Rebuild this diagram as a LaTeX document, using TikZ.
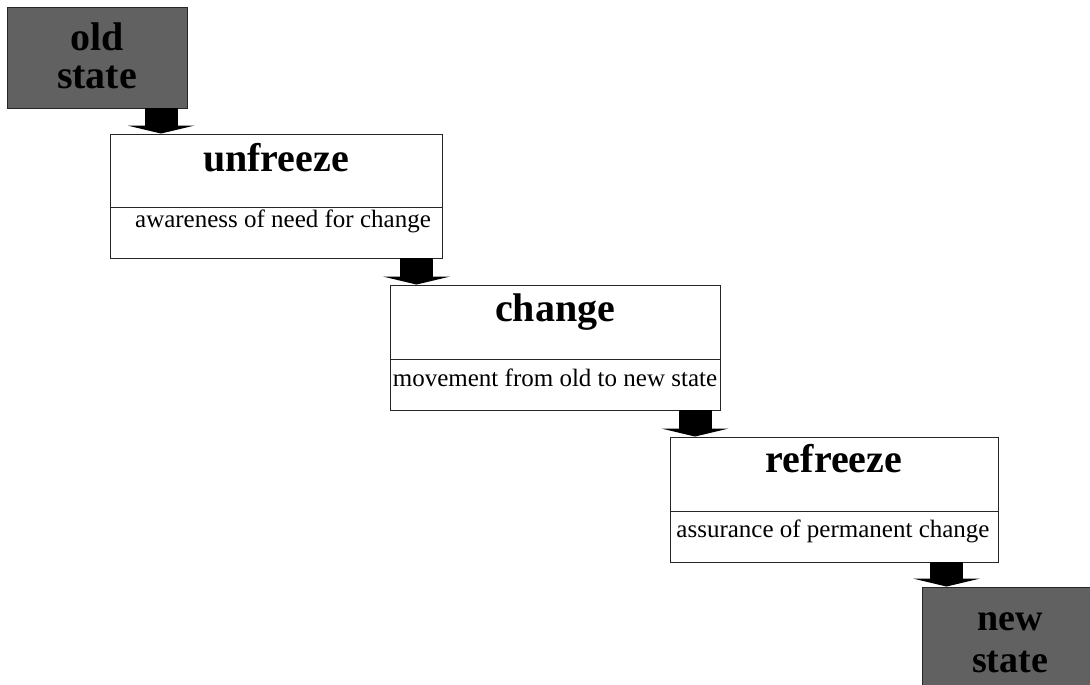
\documentclass[tikz,border=0pt]{standalone}
\usepackage{fontspec}
\setmainfont{Liberation Serif}
\usetikzlibrary{arrows.meta}
\tikzset{
  stage/.style={draw=black!85, line width=0.9pt, fill=white, rectangle, inner sep=0pt},
  statebox/.style={draw=black!85, line width=0.9pt, fill=black!62, rectangle,
    inner sep=0pt, minimum width=180pt, minimum height=101pt},
  statetext/.style={font=\bfseries\fontsize{40}{38}\selectfont, align=center,
    inner sep=0pt, text=black},
  title/.style={font=\bfseries\fontsize{40}{48}\selectfont, anchor=base, inner sep=0pt},
  subtitle/.style={font=\fontsize{25}{30}\selectfont, anchor=base, inner sep=0pt},
  divider/.style={draw=black!85, line width=0.9pt},
  flow/.style={line width=33pt, draw=black,
    -{Triangle[width=67pt,length=8pt,line width=0pt]}},
}
\begin{document}
\begin{tikzpicture}[x=1pt,y=-1pt]
\useasboundingbox (0,0) rectangle (1090,685);
\clip (0,0) rectangle (1090,685);

% initial state
\node[statebox] (old) at (97,57.5) {};
\node[statetext] (oldtext) at ([yshift=2pt]old.center) {old\\state};

% unfreeze stage
\node[stage, minimum width=332pt, minimum height=124pt] (unfreeze) at (276,196) {};
\draw[divider] ([yshift=-74pt]unfreeze.north west) -- ([yshift=-74pt]unfreeze.north east);
\node[title] (unfreezetitle) at ([yshift=-38pt]unfreeze.north) {unfreeze};
\node[subtitle] (unfreezesub) at ([xshift=7pt,yshift=-94pt]unfreeze.north) {awareness of need for change};

% change stage
\node[stage, minimum width=330pt, minimum height=125pt] (change) at (555,347.5) {};
\draw[divider] ([yshift=-75pt]change.north west) -- ([yshift=-75pt]change.north east);
\node[title] (changetitle) at ([yshift=-37pt]change.north) {change};
\node[subtitle] (changesub) at ([yshift=-102pt]change.north) {movement from old to new state};

% refreeze stage
\node[stage, minimum width=328pt, minimum height=125pt] (refreeze) at (834,499.5) {};
\draw[divider] ([yshift=-75pt]refreeze.north west) -- ([yshift=-75pt]refreeze.north east);
\node[title] (refreezetitle) at ([yshift=-36pt]refreeze.north) {refreeze};
\node[subtitle] (refreezesub) at ([xshift=-1pt,yshift=-101pt]refreeze.north) {assurance of permanent change};

% final state
\node[statebox] (new) at (1012,637.5) {};
\node[statetext, font=\bfseries\fontsize{38}{42}\selectfont] (newtext)
  at ([xshift=-2pt,yshift=-5pt]new.center) {new\\state};

% block arrows between the steps
\coordinate (a1) at (161,0);
\coordinate (a2) at (416.5,0);
\coordinate (a3) at (695,0);
\coordinate (a4) at (946.5,0);
\draw[flow] (old.south -| a1) -- (unfreeze.north -| a1);
\draw[flow] (unfreeze.south -| a2) -- (change.north -| a2);
\draw[flow] (change.south -| a3) -- (refreeze.north -| a3);
\draw[flow] (refreeze.south -| a4) -- (new.north -| a4);
\end{tikzpicture}
\end{document}
